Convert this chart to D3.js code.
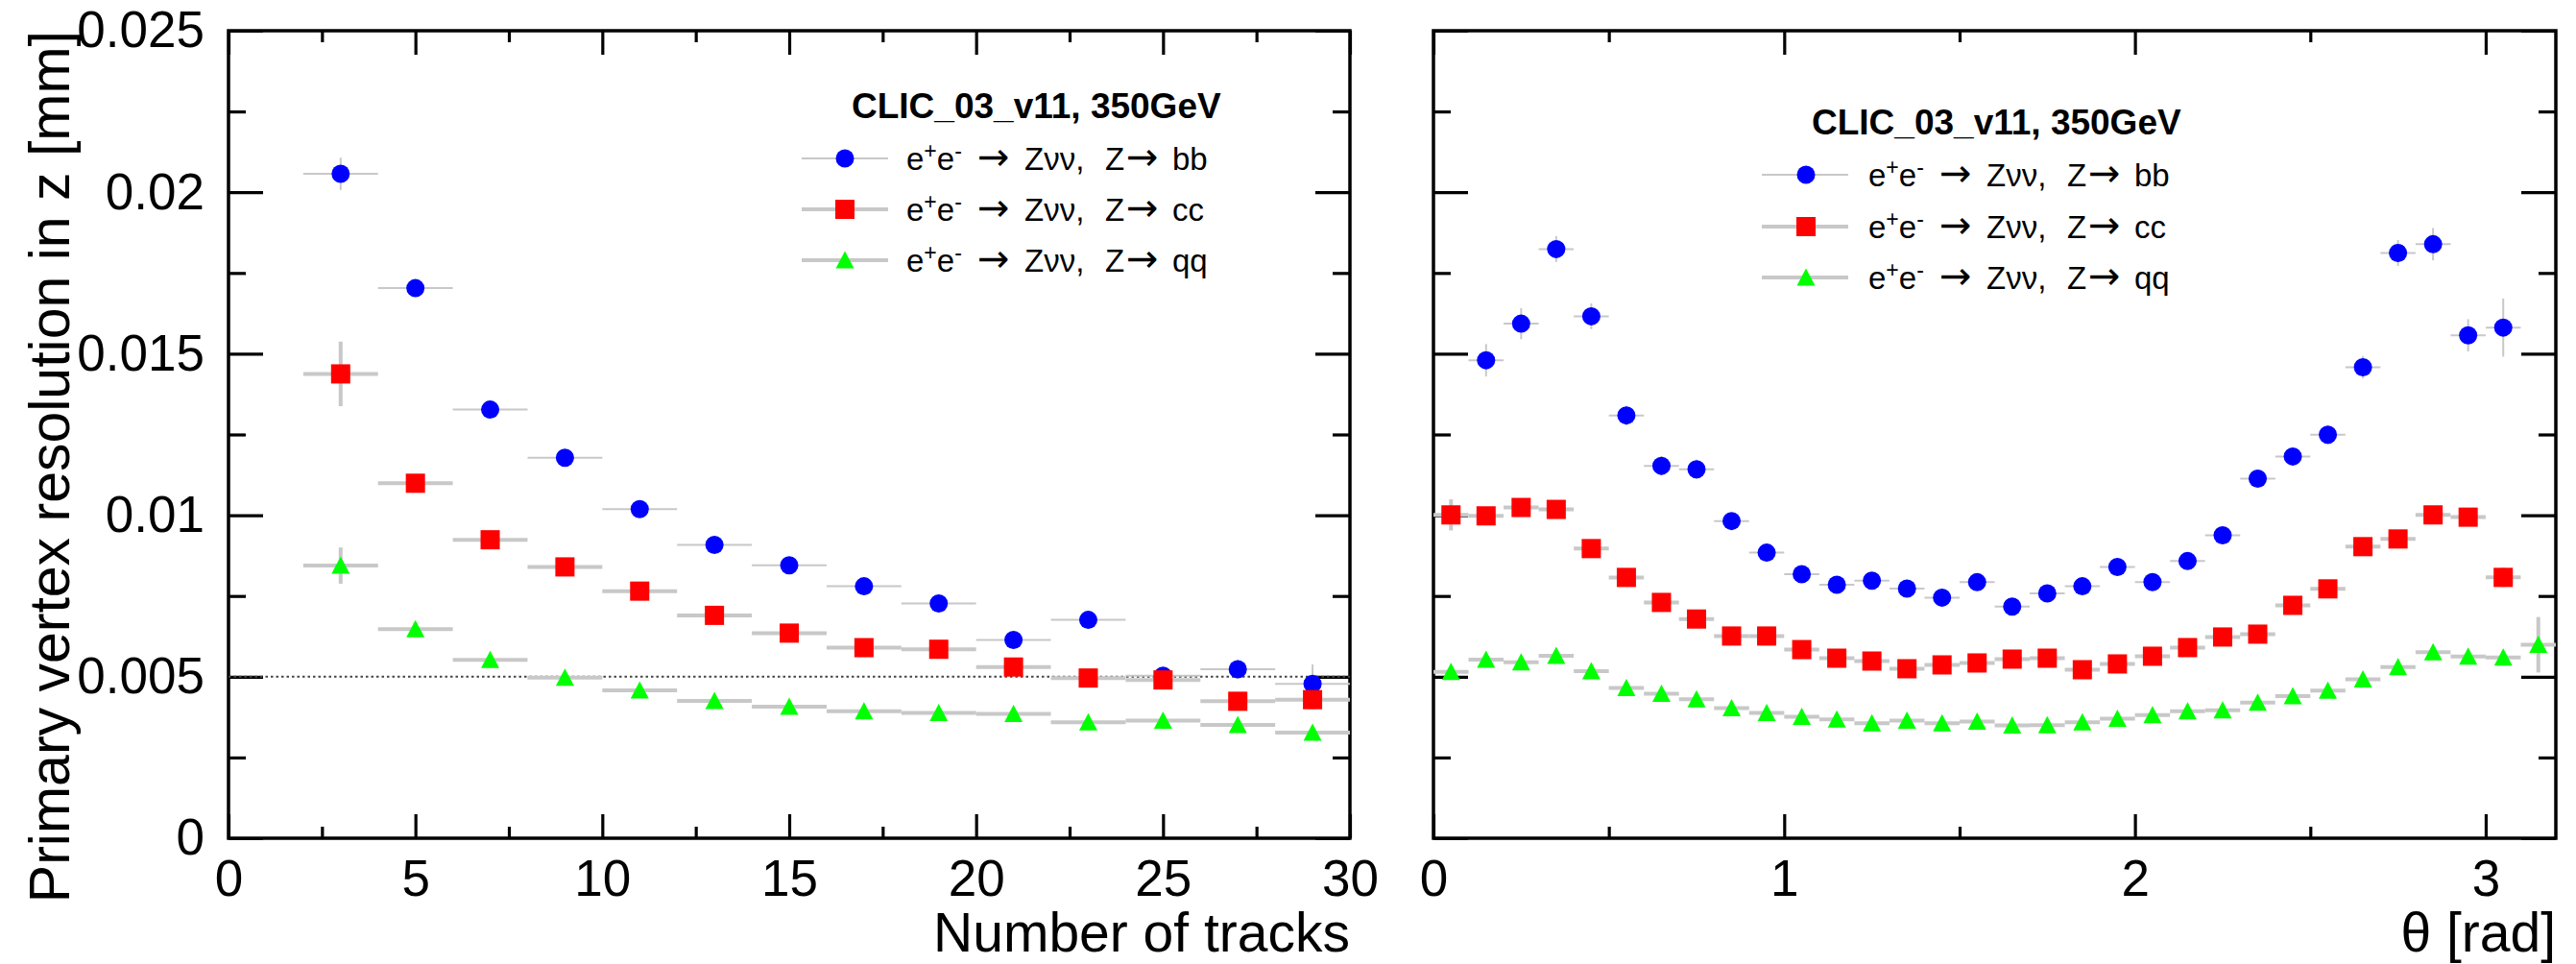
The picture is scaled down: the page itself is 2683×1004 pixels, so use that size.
<!DOCTYPE html>
<html>
<head>
<meta charset="utf-8">
<script src="https://cdn.jsdelivr.net/npm/d3@7"></script>
<style>
  html, body { margin: 0; padding: 0; background: #fff; }
  svg { display: block; }
  text { font-family: "Liberation Sans", Arial, Helvetica, sans-serif; fill: #000; }
</style>
</head>
<body>
<svg id="chart" width="2683" height="1004"></svg>
<script>
// ---------------- DATA ----------------
const tracksX = [3, 5, 7, 9, 11, 13, 15, 17, 19, 21, 23, 25, 27, 29];
const bbTracks = [0.02057, 0.01703, 0.01327, 0.01178, 0.01019, 0.00908, 0.00845, 0.00780, 0.00727, 0.00614, 0.00676, 0.00503, 0.00523, 0.00478];
const bbTracksErr = [0.0005, 0.0002, 0.00018, 0.00015, 0.00015, 0.00015, 0.00015, 0.00015, 0.00015, 0.00018, 0.0002, 0.00022, 0.0003, 0.0006];
const ccTracks = [0.014375, 0.01099, 0.00924, 0.00840, 0.00765, 0.00690, 0.00635, 0.00590, 0.00585, 0.00530, 0.00496, 0.00490, 0.00424, 0.00429];
const ccTracksErr = [0.001, 0.00025, 0.0002, 0.00015, 0.00015, 0.00015, 0.00015, 0.00015, 0.00015, 0.00015, 0.00018, 0.0002, 0.00022, 0.0003];
const qqTracks = [0.00844, 0.00647, 0.00552, 0.00497, 0.00458, 0.00425, 0.00407, 0.00393, 0.00388, 0.00385, 0.00359, 0.00364, 0.00351, 0.00327];
const qqTracksErr = [0.00056, 0.0002, 0.00015, 0.00012, 0.0001, 0.0001, 0.0001, 0.0001, 0.0001, 0.0001, 0.0001, 0.00012, 0.00012, 0.00015];

const thetaX = [0.05, 0.15, 0.25, 0.35, 0.45, 0.55, 0.65, 0.75, 0.85, 0.95, 1.05, 1.15, 1.25, 1.35, 1.45, 1.55,
                1.65, 1.75, 1.85, 1.95, 2.05, 2.15, 2.25, 2.35, 2.45, 2.55, 2.65, 2.75, 2.85, 2.95, 3.05, 3.15];
const bbTheta = [null, 0.0148, 0.01593, 0.01824, 0.01616, 0.01309, 0.01153, 0.01142, 0.00982, 0.00884, 0.008175, 0.00785,
                 0.007976, 0.00773, 0.00745, 0.007926, 0.00717, 0.00758, 0.0078, 0.0084, 0.00793, 0.00858, 0.00938, 0.01113,
                 0.01182, 0.01249, 0.01458, 0.01812, 0.01839, 0.01557, 0.01581, null];
const bbThetaErr = [null, 0.0005, 0.00048, 0.0004, 0.0004, 0.0003, 0.0003, 0.0003, 0.00025, 0.0002, 0.0002, 0.0002,
                    0.0002, 0.0002, 0.0002, 0.0002, 0.0002, 0.0002, 0.0002, 0.0002, 0.0002, 0.0002, 0.00022, 0.00025,
                    0.00025, 0.0003, 0.00035, 0.0004, 0.0005, 0.0005, 0.0009, null];
const ccTheta = [0.01001, 0.00998, 0.01024, 0.01018, 0.008967, 0.008074, 0.0073, 0.006786, 0.00626, 0.00626, 0.00584, 0.005574,
                 0.005485, 0.005247, 0.005366, 0.005426, 0.005545, 0.005574, 0.005217, 0.005396, 0.005634, 0.005902, 0.00623, 0.006318,
                 0.00721, 0.00772, 0.009027, 0.009265, 0.01001, 0.00994, 0.008075, null];
const ccThetaErr = [0.00048, 0.0002, 0.0002, 0.0002, 0.00018, 0.00015, 0.00015, 0.00015, 0.00012, 0.00012, 0.00012, 0.00012,
                    0.00012, 0.00012, 0.00012, 0.00012, 0.00012, 0.00012, 0.00012, 0.00012, 0.00012, 0.00012, 0.00012, 0.00012,
                    0.00015, 0.00015, 0.00018, 0.0002, 0.0002, 0.0002, 0.0003, null];
const qqTheta = [0.00515, 0.005527, 0.005446, 0.005645, 0.00517, 0.004652, 0.004474, 0.004306, 0.00403, 0.003878, 0.00376, 0.003681,
                 0.003562, 0.00364, 0.00356, 0.00361, 0.00349, 0.0035, 0.00359, 0.0037, 0.00381, 0.00393, 0.00396, 0.0042,
                 0.0044, 0.004573, 0.00492, 0.0053, 0.00576, 0.005625, 0.005595, 0.00599];
const qqThetaErr = [0.00015, 0.0001, 0.0001, 0.0001, 0.0001, 0.0001, 0.0001, 0.0001, 0.0001, 0.0001, 0.0001, 0.0001,
                    0.0001, 0.0001, 0.0001, 0.0001, 0.0001, 0.0001, 0.0001, 0.0001, 0.0001, 0.0001, 0.0001, 0.0001,
                    0.0001, 0.0001, 0.00012, 0.00012, 0.00015, 0.00015, 0.0002, 0.00086];

const tracksBinHalf = 1;
const thetaBinHalf = 0.05;

const yTicksMajor = [0, 0.005, 0.01, 0.015, 0.02, 0.025];
const yTickLabels = ["0", "0.005", "0.01", "0.015", "0.02", "0.025"];
const yTicksMinor = [0.0025, 0.0075, 0.0125, 0.0175, 0.0225];
const tracksTicksMajor = [0, 5, 10, 15, 20, 25, 30];
const tracksTickLabels = ["0", "5", "10", "15", "20", "25", "30"];
const tracksTicksMinor = [2.5, 7.5, 12.5, 17.5, 22.5, 27.5];
const thetaTicksMajor = [0, 1, 2, 3];
const thetaTickLabels = ["0", "1", "2", "3"];
const thetaTicksMinor = [0.5, 1.5, 2.5];

const yTitle = "Primary vertex resolution in z [mm]";
const tracksTitle = "Number of tracks";
const thetaTitle = "\u03B8 [rad]";
const legendTitle = "CLIC_03_v11, 350GeV";
const legendFinal = ["bb", "cc", "qq"];
const referenceLine = 0.005;

// ---------------- LAYOUT ----------------
const svg = d3.select("#chart");
const plotTop = 32, plotBottom = 873;
const y = d3.scaleLinear().domain([0, 0.025]).range([plotBottom, plotTop]);
const xL = d3.scaleLinear().domain([0, 30]).range([238, 1406]);
const xR = d3.scaleLinear().domain([0, 3.2]).range([1493, 2662]);

const BAR = "#c8c8c8";
const series = [
  { name: "bb", color: "#0000ff", shape: "circle", barW: 2 },
  { name: "cc", color: "#ff0000", shape: "square", barW: 4 },
  { name: "qq", color: "#00ff00", shape: "triangle", barW: 4 }
];

function marker(g, shape, cx, cy, color) {
  if (shape === "circle") {
    g.append("circle").attr("cx", cx).attr("cy", cy).attr("r", 9.5).attr("fill", color);
  } else if (shape === "square") {
    g.append("rect").attr("x", cx - 10).attr("y", cy - 10).attr("width", 20).attr("height", 20).attr("fill", color);
  } else {
    g.append("path").attr("d", `M${cx},${cy - 9.5}L${cx + 9.5},${cy + 8.5}L${cx - 9.5},${cy + 8.5}Z`).attr("fill", color);
  }
}

function drawPanel(x, ticksMaj, tickLabs, ticksMin, showYLabels) {
  const g = svg.append("g");
  const [x0, x1] = x.range();
  const bMaj = d3.axisBottom(x).tickValues(ticksMaj).tickSize(-25).tickPadding(22)
      .tickFormat((d, i) => tickLabs[i]);
  const bMin = d3.axisBottom(x).tickValues(ticksMin).tickSize(-12).tickFormat("");
  const tMaj = d3.axisTop(x).tickValues(ticksMaj).tickSize(-25).tickFormat("");
  const tMin = d3.axisTop(x).tickValues(ticksMin).tickSize(-12).tickFormat("");
  const lMaj = d3.axisLeft(y).tickValues(yTicksMajor).tickSize(-36).tickPadding(25)
      .tickFormat((d, i) => showYLabels ? yTickLabels[i] : "");
  const lMin = d3.axisLeft(y).tickValues(yTicksMinor).tickSize(-18).tickFormat("");
  const rMaj = d3.axisRight(y).tickValues(yTicksMajor).tickSize(-36).tickFormat("");
  const rMin = d3.axisRight(y).tickValues(yTicksMinor).tickSize(-18).tickFormat("");

  const axes = [
    [bMaj, `translate(0,${plotBottom})`], [bMin, `translate(0,${plotBottom})`],
    [tMaj, `translate(0,${plotTop})`], [tMin, `translate(0,${plotTop})`],
    [lMaj, `translate(${x0},0)`], [lMin, `translate(${x0},0)`],
    [rMaj, `translate(${x1},0)`], [rMin, `translate(${x1},0)`]
  ];
  axes.forEach(([ax, tr]) => {
    const a = g.append("g").attr("transform", tr).call(ax);
    a.select(".domain").remove();
    a.selectAll(".tick line").attr("stroke", "#000").attr("stroke-width", 3.2);
    a.selectAll(".tick text").attr("font-size", 53).attr("font-family", "Liberation Sans, Arial, sans-serif").attr("fill", "#000");
  });
  g.append("rect").attr("x", x0).attr("y", plotTop).attr("width", x1 - x0).attr("height", plotBottom - plotTop)
    .attr("fill", "none").attr("stroke", "#000").attr("stroke-width", 3.5);
  return g;
}

function drawData(g, x, xs, vals, errs, half, s) {
  const d = xs.map((xv, i) => ({ x: xv, v: vals[i], e: errs[i] })).filter(p => p.v !== null);
  const bars = g.append("g");
  d.forEach(p => {
    bars.append("line").attr("x1", x(p.x - half)).attr("x2", x(p.x + half))
      .attr("y1", y(p.v)).attr("y2", y(p.v)).attr("stroke", BAR).attr("stroke-width", s.barW);
    bars.append("line").attr("x1", x(p.x)).attr("x2", x(p.x))
      .attr("y1", y(p.v - p.e)).attr("y2", y(p.v + p.e)).attr("stroke", BAR).attr("stroke-width", s.barW);
  });
  return d;
}

function drawMarkers(g, x, d, s) {
  const m = g.append("g");
  d.forEach(p => marker(m, s.shape, x(p.x), y(p.v), s.color));
}

function legendText(t, x0, yPos, fin) {
  const tx = t.append("text").attr("x", x0).attr("y", yPos).attr("font-size", 33);
  tx.append("tspan").text("e");
  tx.append("tspan").attr("dy", -12).attr("font-size", 23).text("+");
  tx.append("tspan").attr("dy", 12).text("e");
  tx.append("tspan").attr("dy", -12).attr("font-size", 23).text("-");
  tx.append("tspan").attr("x", x0 + 74).attr("dy", 12).attr("font-family", "DejaVu Sans").attr("font-size", 40).text("\u2192");
  tx.append("tspan").attr("x", x0 + 123).text("Z\u03BD\u03BD,");
  tx.append("tspan").attr("x", x0 + 207).text("Z");
  tx.append("tspan").attr("x", x0 + 229).attr("font-family", "DejaVu Sans").attr("font-size", 40).text("\u2192");
  tx.append("tspan").attr("x", x0 + 277).text(fin);
}

function drawLegend(lx, titleY, rowY) {
  const g = svg.append("g");
  g.append("text").attr("x", lx.title).attr("y", titleY).attr("font-size", 37).attr("font-weight", "bold").text(legendTitle);
  series.forEach((s, i) => {
    const ry = rowY[i];
    g.append("line").attr("x1", lx.line0).attr("x2", lx.line1).attr("y1", ry).attr("y2", ry)
      .attr("stroke", BAR).attr("stroke-width", s.barW);
    marker(g, s.shape, lx.marker, ry, s.color);
    legendText(g, lx.text, ry + 12, legendFinal[i]);
  });
}

// Left panel
const gL = drawPanel(xL, tracksTicksMajor, tracksTickLabels, tracksTicksMinor, true);
gL.append("line").attr("x1", xL(0)).attr("x2", xL(30)).attr("y1", y(referenceLine)).attr("y2", y(referenceLine))
  .attr("stroke", "#444").attr("stroke-width", 2).attr("stroke-dasharray", "2.5,3");
const leftSets = [[bbTracks, bbTracksErr], [ccTracks, ccTracksErr], [qqTracks, qqTracksErr]];
const leftD = leftSets.map((ds, i) => drawData(gL, xL, tracksX, ds[0], ds[1], tracksBinHalf, series[i]));
leftD.forEach((d, i) => drawMarkers(gL, xL, d, series[i]));

// Right panel
const gR = drawPanel(xR, thetaTicksMajor, thetaTickLabels, thetaTicksMinor, false);
const rightSets = [[bbTheta, bbThetaErr], [ccTheta, ccThetaErr], [qqTheta, qqThetaErr]];
const rightD = rightSets.map((ds, i) => drawData(gR, xR, thetaX, ds[0], ds[1], thetaBinHalf, series[i]));
rightD.forEach((d, i) => drawMarkers(gR, xR, d, series[i]));

// Legends
drawLegend({ title: 887, line0: 835, line1: 925, marker: 880, text: 944 }, 123, [165, 218, 271]);
drawLegend({ title: 1887, line0: 1835, line1: 1925, marker: 1881, text: 1946 }, 140, [182, 236, 289]);

// Axis titles
svg.append("text").attr("transform", `translate(72,${plotTop}) rotate(-90)`).attr("text-anchor", "end")
  .attr("font-size", 59).text(yTitle);
svg.append("text").attr("x", 1406).attr("y", 991).attr("text-anchor", "end").attr("font-size", 57).text(tracksTitle);
svg.append("text").attr("x", 2662).attr("y", 991).attr("text-anchor", "end").attr("font-size", 57).text(thetaTitle);
</script>
</body>
</html>
